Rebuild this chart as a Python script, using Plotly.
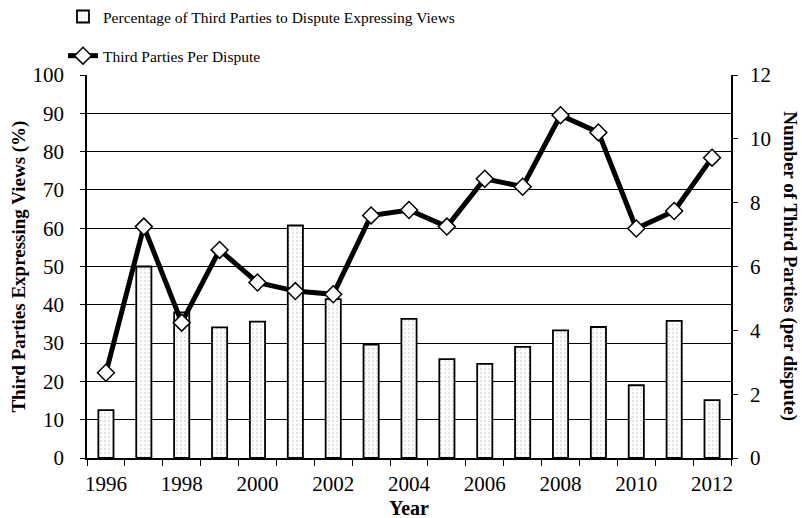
import plotly.graph_objects as go

years = list(range(1996, 2013))
pct_expressing = [12.5, 50.0, 38.0, 34.1, 35.6, 60.7, 41.5, 29.6, 36.3, 25.8, 24.6, 29.0, 33.3, 34.2, 19.0, 35.8, 15.1]
parties_per_dispute = [2.67, 7.25, 4.24, 6.52, 5.50, 5.23, 5.13, 7.60, 7.77, 7.25, 8.75, 8.50, 10.74, 10.20, 7.19, 7.74, 9.41]
x_tick_labels = [str(y) for y in range(1996, 2013, 2)]

SERIF = "Liberation Serif"

fig = go.Figure()
fig.add_trace(go.Bar(
    x=years, y=pct_expressing, name="Percentage of Third Parties to Dispute Expressing Views",
    width=0.4,
    marker=dict(color="white", line=dict(color="black", width=1.8),
                pattern=dict(shape=".", fgcolor="#c8c8c8", bgcolor="white", size=4, solidity=0.25)),
    legendgroup="a", yaxis="y",
))
fig.add_trace(go.Scatter(
    x=years, y=parties_per_dispute, name="Third Parties Per Dispute",
    mode="lines+markers",
    line=dict(color="black", width=5),
    marker=dict(symbol="diamond", size=13, color="white", line=dict(color="black", width=1.5)),
    legendgroup="b", yaxis="y2",
))

fig.update_layout(
    width=802, height=518,
    margin=dict(l=87, r=71, t=75, b=60, autoexpand=False),
    paper_bgcolor="white", plot_bgcolor="white",
    font=dict(family=SERIF, size=20, color="black"),
    showlegend=True,
    legend=dict(x=-0.0373, y=1.196, xanchor="left", yanchor="top",
                font=dict(family=SERIF, size=15.5), tracegroupgap=16,
                bgcolor="rgba(0,0,0,0)"),
    bargap=0.5,
    xaxis=dict(
        range=[1995.5, 2012.5], tickmode="array", tickvals=list(range(1996, 2013, 2)),
        ticktext=x_tick_labels, ticks="", showgrid=False, zeroline=False,
        showline=True, linecolor="black", linewidth=1.5,
        tickfont=dict(family=SERIF, size=21), ticklabelstandoff=6,
        minor=dict(tickmode="linear", tick0=1995.5, dtick=1, ticks="outside", ticklen=6,
                   tickcolor="black", tickwidth=1.2, showgrid=False),
    ),
    yaxis=dict(
        range=[0, 100], dtick=10, ticks="outside", ticklen=5, tickcolor="black",
        showgrid=True, gridcolor="black", gridwidth=1.2, zeroline=False,
        showline=True, linecolor="black", linewidth=1.5,
        tickfont=dict(family=SERIF, size=21), ticklabelstandoff=12,
    ),
    yaxis2=dict(
        range=[0, 12], dtick=2, overlaying="y", side="right", ticks="outside", ticklen=5,
        tickcolor="black", showgrid=False, zeroline=False,
        showline=True, linecolor="black", linewidth=1.5,
        tickfont=dict(family=SERIF, size=21), ticklabelstandoff=8,
    ),
    annotations=[
        dict(text="<b>Year</b>", x=0.5, y=-0.13, xref="paper", yref="paper",
             xanchor="center", yanchor="middle", showarrow=False,
             font=dict(family=SERIF, size=20)),
        dict(text="<b>Third Parties Expressing Views (%)</b>", x=-0.107, y=0.5,
             xref="paper", yref="paper", textangle=-90, xanchor="center", yanchor="middle",
             showarrow=False, font=dict(family=SERIF, size=19)),
        dict(text="<b>Number of Third Parties (per dispute)</b>", x=1.092, y=0.5,
             xref="paper", yref="paper", textangle=90, xanchor="center", yanchor="middle",
             showarrow=False, font=dict(family=SERIF, size=19)),
    ],
)

fig.write_html("out.html", config={"displayModeBar": False},
               post_script="document.body.style.margin='0';")
